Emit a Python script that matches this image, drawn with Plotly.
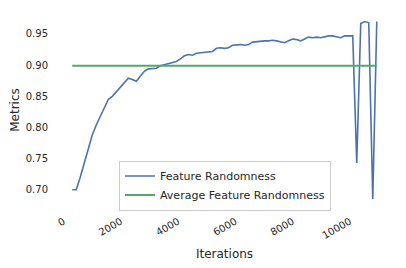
import plotly.graph_objects as go

iterations = [200, 340, 480, 620, 760, 900, 1040, 1180, 1320, 1460,
              1600, 1740, 1880, 2020, 2160, 2300, 2440, 2580, 2720, 2860,
              3000, 3140, 3280, 3420, 3560, 3700, 3840, 3980, 4120, 4260,
              4400, 4540, 4680, 4820, 4960, 5100, 5240, 5380, 5520, 5660,
              5800, 5940, 6080, 6220, 6360, 6500, 6640, 6780, 6920, 7060,
              7200, 7340, 7480, 7620, 7760, 7900, 8040, 8180, 8320, 8460,
              8600, 8740, 8880, 9020, 9160, 9300, 9440, 9580, 9720, 9860,
              10000, 10140, 10280, 10420, 10560, 10700, 10840]

feature_randomness = [0.700, 0.700, 0.720, 0.743, 0.766, 0.788, 0.804, 0.817, 0.831, 0.845,
                      0.850, 0.857, 0.864, 0.872, 0.879, 0.877, 0.874, 0.882, 0.890, 0.894,
                      0.894, 0.895, 0.899, 0.901, 0.902, 0.904, 0.906, 0.910, 0.915, 0.917,
                      0.916, 0.919, 0.920, 0.921, 0.922, 0.922, 0.927, 0.928, 0.927, 0.928,
                      0.932, 0.933, 0.933, 0.932, 0.933, 0.937, 0.938, 0.939, 0.939, 0.939,
                      0.940, 0.939, 0.938, 0.936, 0.939, 0.942, 0.941, 0.939, 0.942, 0.945,
                      0.944, 0.945, 0.944, 0.946, 0.947, 0.947, 0.946, 0.944, 0.947, 0.947,
                      0.947, 0.743, 0.967, 0.970, 0.968, 0.685, 0.970]

avg_x = [200, 10840]
avg_randomness = [0.899, 0.899]

x_ticks = [0, 2000, 4000, 6000, 8000, 10000]
x_tick_labels = ["0", "2000", "4000", "6000", "8000", "10000"]
y_ticks = [0.70, 0.75, 0.80, 0.85, 0.90, 0.95]
y_tick_labels = ["0.70", "0.75", "0.80", "0.85", "0.90", "0.95"]

text_color = "#262626"
font_family = "DejaVu Sans"

fig = go.Figure()
fig.add_trace(go.Scatter(x=iterations, y=feature_randomness, mode="lines",
                         name="Feature Randomness",
                         line=dict(color="#4C72B0", width=1.6)))
fig.add_trace(go.Scatter(x=avg_x, y=avg_randomness, mode="lines",
                         name="Average Feature Randomness",
                         line=dict(color="#55A868", width=2)))

fig.update_layout(
    width=406, height=268,
    margin=dict(l=49, r=22, t=4, b=68, autoexpand=False),
    paper_bgcolor="white", plot_bgcolor="white",
    font=dict(family=font_family, color=text_color, size=10),
    showlegend=True,
    legend=dict(
        x=0.185, y=0.242, xanchor="left", yanchor="top",
        bgcolor="rgba(255,255,255,0.8)", bordercolor="#cccccc", borderwidth=1,
        font=dict(size=11, color=text_color, family=font_family),
        itemwidth=30,
        tracegroupgap=0,
    ),
    xaxis=dict(
        range=[-332, 11372],
        tickvals=x_ticks, ticktext=x_tick_labels, tickangle=-30,
        showgrid=False, zeroline=False, showline=False, ticks="",
        ticklabelstandoff=5, ticklabelshift=-3,
        tickfont=dict(size=10, color=text_color),
        title=dict(text="Iterations", font=dict(size=12, color=text_color), standoff=9),
        automargin=False,
    ),
    yaxis=dict(
        range=[0.6707, 0.9853],
        tickvals=y_ticks, ticktext=y_tick_labels,
        showgrid=False, zeroline=False, showline=False, ticks="",
        ticklabelstandoff=8,
        tickfont=dict(size=10, color=text_color),
        title=dict(text="Metrics", font=dict(size=12, color=text_color), standoff=6),
        automargin=False,
    ),
)

fig.write_html("out.html")
